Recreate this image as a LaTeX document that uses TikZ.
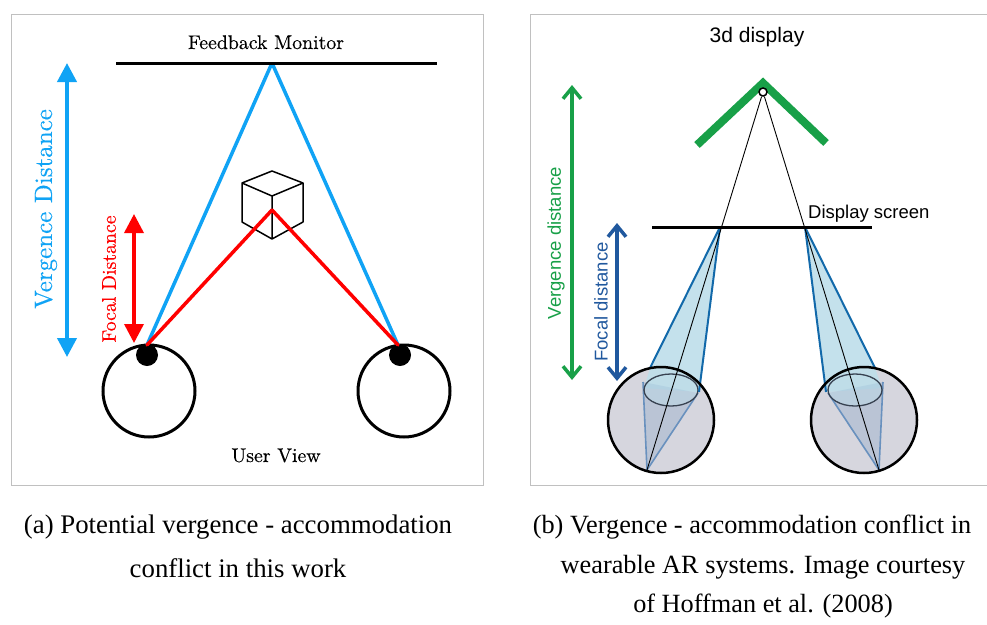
\documentclass[tikz,border=0pt]{standalone}
\usepackage{fontspec}
\newfontfamily\sansfam{Liberation Sans}
\newfontfamily\capfam{Liberation Serif}
\newfontfamily\lmten{lmroman10-regular}[Extension=.otf, FakeBold=0.35]
\usetikzlibrary{arrows.meta}

\definecolor{vblue}{RGB}{16,163,245}
\definecolor{fred}{RGB}{255,0,0}
\definecolor{vgreen}{RGB}{24,160,72}
\definecolor{fblue}{RGB}{32,88,158}
\definecolor{conel}{RGB}{18,105,170}
\definecolor{conefill}{RGB}{190,222,234}
\definecolor{eyefill}{RGB}{214,214,222}
\definecolor{lensln}{RGB}{105,145,190}
\definecolor{lensrim}{RGB}{55,65,80}
\definecolor{framegray}{RGB}{192,192,192}

\tikzset{
  panelframe/.style={draw=framegray, line width=1pt},
  serifbig/.style={inner sep=0pt, font=\lmten\fontsize{19.8}{21}\selectfont},
  seriflabel/.style={inner sep=0pt, rotate=90},
  sanslabel/.style={inner sep=0pt, font=\sansfam\fontsize{18.5}{20}\selectfont},
  captionline/.style={inner sep=0pt, anchor=base, font=\capfam\fontsize{26.8}{29}\selectfont},
  captionlineb/.style={captionline, font=\capfam\fontsize{26.3}{29}\selectfont},
  ray/.style={line width=3.5pt},
  eyering/.style={circle, draw=black, line width=3pt, minimum size=92pt, inner sep=0pt},
  pupil/.style={circle, fill=black, minimum size=22pt, inner sep=0pt},
  bigarrow/.style={line width=4pt, {Triangle[length=19pt,width=19pt]}-{Triangle[length=19pt,width=19pt]}},
  barbarrow/.style={line width=3.5pt, {Straight Barb[length=11pt,width=18pt]}-{Straight Barb[length=11pt,width=18pt]}},
  eyeball/.style={circle, fill=eyefill, minimum size=106pt, inner sep=0pt},
  conebody/.style={fill=conefill, fill opacity=0.9},
  innercone/.style={draw=lensln, line width=1.6pt, fill=lensln, fill opacity=0.25},
  coneedge/.style={draw=conel, line width=2pt},
  lens/.style={draw=lensrim, line width=1.3pt, fill=conefill, fill opacity=0.45},
}

\begin{document}
\begin{tikzpicture}[x=1pt,y=-1pt]
\useasboundingbox (0,0) rectangle (987,624);
\fill[white] (0,0) rectangle (987,624);

% ---------------- left panel ----------------
\draw[panelframe] (11,14) rectangle (483,485);
\node[serifbig, anchor=base] (fbm) at (266,49) {Feedback Monitor};

\coordinate (monL) at (116,63);
\coordinate (monR) at (437,63);
\coordinate (apex) at (272,63);

% eyes
\node[eyering] (eyeL) at (149,391) {};
\node[eyering] (eyeR) at (404,391) {};
\node[pupil] (pupL) at (147,355) {};
\node[pupil] (pupR) at (400,355) {};
\coordinate (tgtL) at (147,345);
\coordinate (tgtR) at (398,345);

% cube
\coordinate (cT) at (272,171);
\coordinate (cUL) at (242,183);
\coordinate (cUR) at (303,183);
\coordinate (cLL) at (242,222);
\coordinate (cLR) at (303,222);
\coordinate (cB) at (272,239);
\coordinate (cC) at (272,196);
\coordinate (obj) at (272,210);
\draw[line width=1.5pt, line join=round]
  (cT) -- (cUR) -- (cLR) -- (cB) -- (cLL) -- (cUL) -- cycle
  (cUL) -- (cC) -- (cUR)
  (cC) -- (cB);

% vergence rays to the monitor, focal rays to the cube
\draw[ray, vblue] (apex) -- (tgtL);
\draw[ray, vblue] (apex) -- (tgtR);
\draw[ray, fred, line cap=round] (obj) -- (tgtL);
\draw[ray, fred, line cap=round] (obj) -- (tgtR);
\draw[line width=3pt] (monL) -- (monR);

% distance arrows
\coordinate (vdTop) at (67,63);
\coordinate (vdBot) at (67,357);
\draw[bigarrow, vblue] (vdTop) -- (vdBot);
\coordinate (fdTop) at (134,214);
\coordinate (fdBot) at (134,343);
\draw[bigarrow, fred, line width=3.5pt] (fdTop) -- (fdBot);

\node[seriflabel, text=vblue, font=\lmten\fontsize{25}{27}\selectfont] (vdLab) at (46,209) {Vergence Distance};
\node[seriflabel, text=fred, font=\lmten\fontsize{19.8}{21}\selectfont] (fdLab) at (109,279) {Focal Distance};

\node[serifbig, anchor=base] (uview) at (276,462) {User View};

% ---------------- right panel ----------------
\draw[panelframe] (988,14) -- (530,14) -- (530,485) -- (988,485);
\node[sanslabel, anchor=base, font=\sansfam\fontsize{21}{23}\selectfont] (d3) at (757,42) {3d display};

% virtual object seen on the 3d display
\coordinate (gvL) at (697,145);
\coordinate (gvA) at (763,83);
\coordinate (gvR) at (826,143);
\draw[vgreen, line width=8pt, line join=miter] (gvL) -- (gvA) -- (gvR);

% display screen
\coordinate (dsL) at (652,227);
\coordinate (dsR) at (872,227);
\coordinate (sL) at (720,227);
\coordinate (sR) at (805,227);
\node[sanslabel, anchor=base west] (dsLab) at (808,218) {Display screen};

% eyeballs
\node[eyeball] (ebL) at (661,420) {};
\node[eyeball] (ebR) at (864,420) {};
\coordinate (retL) at (647,470);
\coordinate (retR) at (879,470);

% left eye light cone
\coordinate (oL) at (650,368);
\coordinate (iL) at (699,392);
\fill[conebody] (sL) -- (oL) -- (644,388) -- (iL) -- cycle;
\draw[innercone] (643,382) -- (retL) -- (698,393);
\draw[lens] (671,390) ellipse [x radius=27, y radius=16];
\draw[coneedge] (sL) -- (oL);
\draw[coneedge] (sL) -- (iL);

% right eye light cone
\coordinate (oR) at (875,368);
\coordinate (iR) at (826,392);
\fill[conebody] (sR) -- (oR) -- (882,388) -- (iR) -- cycle;
\draw[innercone] (883,382) -- (retR) -- (828,393);
\draw[lens] (855,390) ellipse [x radius=27, y radius=16];
\draw[coneedge] (sR) -- (oR);
\draw[coneedge] (sR) -- (iR);

% eyeball outlines
\draw[line width=2.5pt] (ebL.center) circle [radius=53];
\draw[line width=2.5pt] (ebR.center) circle [radius=53];

\draw[line width=3pt] (dsL) -- (dsR);

% lines of sight from the virtual point
\node[circle, draw=black, fill=white, line width=1.5pt, minimum size=8pt, inner sep=0pt] (pt3d) at (763,92) {};
\draw[line width=0.9pt] (pt3d) -- (retL);
\draw[line width=0.9pt] (pt3d) -- (retR);

% distance arrows
\coordinate (vgTop) at (572,85);
\coordinate (vgBot) at (572,380);
\draw[barbarrow, vgreen] (vgTop) -- (vgBot);
\coordinate (fbTop) at (617,223);
\coordinate (fbBot) at (617,381);
\draw[barbarrow, fblue] (fbTop) -- (fbBot);

\node[seriflabel, text=vgreen, font=\sansfam\fontsize{18.5}{20}\selectfont] (vgLab) at (556,243) {Vergence distance};
\node[seriflabel, text=fblue, font=\sansfam\fontsize{18.5}{20}\selectfont] (fbLab) at (601,302) {Focal distance};

% ---------------- captions ----------------
\node[captionline] (capA1) at (238,533) {(a) Potential vergence - accommodation};
\node[captionline] (capA2) at (238,577) {conflict in this work};
\node[captionlineb] (capB1) at (752,533) {(b) Vergence - accommodation conflict in};
\node[captionlineb] (capB2) at (763,573) {wearable AR systems. Image courtesy};
\node[captionlineb] (capB3) at (763,612) {of Hoffman et al. (2008)};
\end{tikzpicture}
\end{document}
